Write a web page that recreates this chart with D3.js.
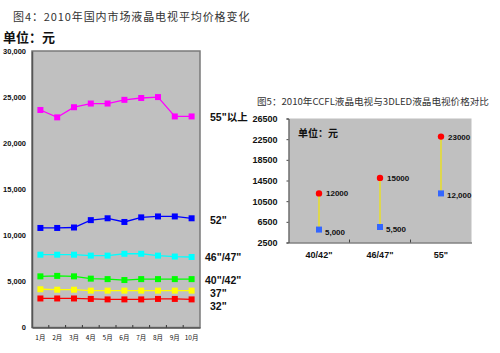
<!DOCTYPE html>
<html>
<head>
<meta charset="utf-8">
<script src="https://cdn.jsdelivr.net/npm/d3@7"></script>
<style>
  body { margin: 0; background: #fff; }
  svg { display: block; font-family: "Liberation Sans", Arial, "Noto Sans CJK SC", sans-serif; }
  .cn { font-family: "Noto Sans CJK SC", sans-serif; }
</style>
</head>
<body>
<svg id="chart" width="500" height="353"></svg>
<script>
// ---- chart 1: monthly average prices ----
var months = ["1月", "2月", "3月", "4月", "5月", "6月", "7月", "8月", "9月", "10月"];
var sizeNames = ["55\"以上", "52\"", "46\"/47\"", "40\"/42\"", "37\"", "32\""];
var sizeColors = ["#ff00ff", "#0000ff", "#00ffff", "#00ff00", "#ffff00", "#ff0000"];
var price55 = [23600, 22800, 23900, 24300, 24300, 24700, 24900, 25000, 22900, 22900];
var price52 = [10800, 10800, 10850, 11650, 11850, 11450, 11950, 12050, 12050, 11850];
var price46 = [7900, 7900, 7900, 7800, 7800, 8000, 8000, 7800, 7700, 7650];
var price40 = [5550, 5600, 5550, 5300, 5250, 5150, 5250, 5250, 5250, 5250];
var price37 = [4150, 4100, 4100, 4000, 4000, 4000, 4000, 4000, 4000, 4000];
var price32 = [3150, 3150, 3150, 3100, 3050, 3050, 3050, 3100, 3100, 3050];
var yTicks1 = [0, 5000, 10000, 15000, 20000, 25000, 30000];

// ---- chart 2: CCFL vs 3D LED ----
var models = ["40/42\"", "46/47\"", "55\""];
var ccflPrice = [5000, 5500, 12000];
var ledPrice = [12000, 15000, 23000];
var yTicks2 = [2500, 6500, 10500, 14500, 18500, 22500, 26500];

var svg = d3.select("#chart");
var series = [price55, price52, price46, price40, price37, price32];
var labelX = [210, 210, 205, 205, 210, 210];
var labelY = [120.5, 224, 261, 283.5, 296.5, 310];

// left chart
var p1 = {left: 32, right: 200, top: 51, bottom: 327.5};
var x1 = d3.scaleBand().domain(months).range([p1.left, p1.right]);
var y1 = d3.scaleLinear().domain([0, 30000]).range([p1.bottom, p1.top]);

svg.append("text").attr("class", "cn")
  .attr("x", 13).attr("y", 21).attr("font-size", 11).attr("letter-spacing", 0.9).attr("fill", "#333")
  .text("图4：2010年国内市场液晶电视平均价格变化");
svg.append("text").attr("class", "cn")
  .attr("x", 3).attr("y", 42).attr("font-size", 13).attr("font-weight", "bold").attr("fill", "#111")
  .text("单位：元");

svg.append("rect")
  .attr("x", p1.left).attr("y", p1.top)
  .attr("width", p1.right - p1.left).attr("height", p1.bottom - p1.top)
  .attr("fill", "#c0c0c0").attr("stroke", "#7a7a7a").attr("stroke-width", 1.5);

var g1 = svg.append("g");
g1.append("g").attr("transform", "translate(" + p1.left + ",0)")
  .call(d3.axisLeft(y1).tickValues(yTicks1).tickSize(0).tickPadding(6).tickFormat(d3.format(",")))
  .call(function(g) {
    g.select(".domain").attr("stroke", "#555").attr("stroke-width", 1.5);
    g.selectAll("text").attr("font-size", 7.5).attr("font-weight", "bold").attr("fill", "#111");
  });
g1.append("g").attr("transform", "translate(0," + p1.bottom + ")")
  .call(d3.axisBottom(x1).tickSize(0).tickPadding(8))
  .call(function(g) {
    g.select(".domain").attr("stroke", "#555").attr("stroke-width", 1.5);
    g.selectAll("text").attr("class", "cn").attr("font-size", 6.5).attr("fill", "#111");
  });
// small ticks between months
g1.selectAll(".mtick").data(months.slice(1)).enter().append("line")
  .attr("x1", function(d) { return x1(d); }).attr("x2", function(d) { return x1(d); })
  .attr("y1", p1.bottom - 2.5).attr("y2", p1.bottom)
  .attr("stroke", "#333");

var line1 = d3.line()
  .x(function(d, i) { return x1(months[i]) + x1.bandwidth() / 2; })
  .y(function(d) { return y1(d); });

series.forEach(function(s, k) {
  g1.append("path").attr("d", line1(s))
    .attr("fill", "none").attr("stroke", sizeColors[k]).attr("stroke-width", 1.3);
  g1.selectAll(".pt" + k).data(s).enter().append("rect")
    .attr("x", function(d, i) { return x1(months[i]) + x1.bandwidth() / 2 - 3; })
    .attr("y", function(d) { return y1(d) - 3; })
    .attr("width", 6).attr("height", 6)
    .attr("fill", sizeColors[k]);
  svg.append("text")
    .attr("x", labelX[k]).attr("y", labelY[k])
    .attr("font-size", 10.5).attr("font-weight", "bold").attr("fill", "#111")
    .text(sizeNames[k]);
});

// right chart
var p2 = {left: 288.5, right: 471.5, top: 118.5, bottom: 242.5};
var x2 = d3.scaleBand().domain(models).range([p2.left, p2.right]);
var y2 = d3.scaleLinear().domain([2500, 26500]).range([p2.bottom, p2.top]);

svg.append("text").attr("class", "cn")
  .attr("x", 257).attr("y", 105).attr("font-size", 9.6).attr("fill", "#333")
  .text("图5：2010年CCFL液晶电视与3DLED液晶电视价格对比");

svg.append("rect")
  .attr("x", p2.left).attr("y", p2.top)
  .attr("width", p2.right - p2.left).attr("height", p2.bottom - p2.top)
  .attr("fill", "#c0c0c0");

var g2 = svg.append("g");
g2.append("g").attr("transform", "translate(" + p2.left + ",0)")
  .call(d3.axisLeft(y2).tickValues(yTicks2).tickSize(2).tickPadding(9).tickFormat(d3.format("d")))
  .call(function(g) {
    g.selectAll("line, .domain").attr("stroke", "#444");
    g.selectAll("text").attr("font-size", 9).attr("font-weight", "bold").attr("fill", "#111");
  });
g2.append("g").attr("transform", "translate(0," + p2.bottom + ")")
  .call(d3.axisBottom(x2).tickSize(0).tickPadding(9))
  .call(function(g) {
    g.select(".domain").attr("stroke", "#444").attr("stroke-width", 1.2);
    g.selectAll("text").attr("font-size", 9).attr("font-weight", "bold").attr("fill", "#111");
  });
g2.selectAll(".ctick").data(models.slice(1)).enter().append("line")
  .attr("x1", function(d) { return x2(d); }).attr("x2", function(d) { return x2(d); })
  .attr("y1", p2.bottom - 3).attr("y2", p2.bottom)
  .attr("stroke", "#444");

svg.append("text").attr("class", "cn")
  .attr("x", 298).attr("y", 137).attr("font-size", 10).attr("font-weight", "bold").attr("fill", "#111")
  .text("单位：元");

var cx = function(i) { return x2(models[i]) + x2.bandwidth() / 2; };

g2.selectAll(".hl").data(models).enter().append("line")
  .attr("x1", function(d, i) { return cx(i); }).attr("x2", function(d, i) { return cx(i); })
  .attr("y1", function(d, i) { return y2(ledPrice[i]); })
  .attr("y2", function(d, i) { return y2(ccflPrice[i]); })
  .attr("stroke", "#f2e600").attr("stroke-width", 1.2);

g2.selectAll(".ccfl").data(ccflPrice).enter().append("rect")
  .attr("x", function(d, i) { return cx(i) - 3; })
  .attr("y", function(d) { return y2(d) - 3; })
  .attr("width", 6).attr("height", 6).attr("fill", "#3366ff");
g2.selectAll(".led").data(ledPrice).enter().append("circle")
  .attr("cx", function(d, i) { return cx(i); })
  .attr("cy", function(d) { return y2(d); })
  .attr("r", 3.2).attr("fill", "#ff0000");

g2.selectAll(".ccflLab").data(ccflPrice).enter().append("text")
  .attr("x", function(d, i) { return cx(i) + 6; })
  .attr("y", function(d) { return y2(d) + 5; })
  .attr("font-size", 8).attr("font-weight", "bold").attr("fill", "#111")
  .text(function(d) { return d3.format(",")(d); });
g2.selectAll(".ledLab").data(ledPrice).enter().append("text")
  .attr("x", function(d, i) { return cx(i) + 7; })
  .attr("y", function(d) { return y2(d) + 3; })
  .attr("font-size", 8).attr("font-weight", "bold").attr("fill", "#111")
  .text(function(d) { return d; });
</script>
</body>
</html>
